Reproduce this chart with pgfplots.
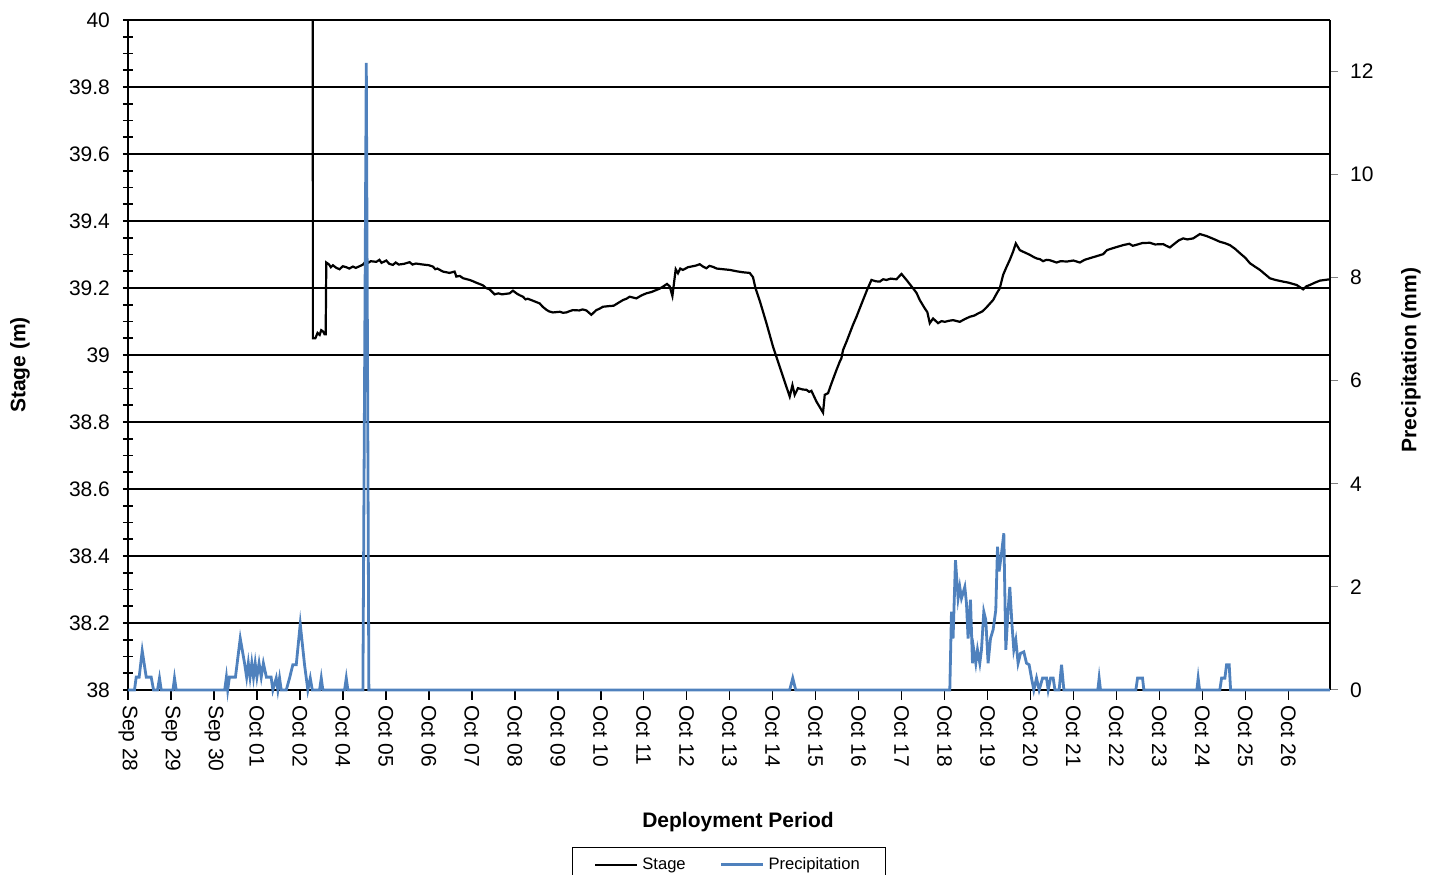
\documentclass[border=0pt]{standalone}
\usepackage{pgfplots}
\pgfplotsset{compat=1.18}
\usepackage{fontspec}
\setmainfont{Liberation Sans}
\definecolor{precip}{RGB}{79,129,189}
\begin{document}
\begin{tikzpicture}
\begin{axis}[
  name=main,
  scale only axis,
  width=601pt, height=335pt,
  xmin=0, xmax=27.97,
  ymin=38, ymax=40,
  axis y line*=left, axis x line*=bottom,
  x axis line style={black, line width=1pt},
  y axis line style={black, line width=1.3pt},
  xtick={0,...,27},
  xticklabels={Sep 28,Sep 29,Sep 30,Oct 01,Oct 02,Oct 04,Oct 05,Oct 06,Oct 07,Oct 08,Oct 09,Oct 10,Oct 11,Oct 12,Oct 13,Oct 14,Oct 15,Oct 16,Oct 17,Oct 18,Oct 19,Oct 20,Oct 21,Oct 22,Oct 23,Oct 24,Oct 25,Oct 26},
  ytick={38,38.2,38.4,38.6,38.8,39,39.2,39.4,39.6,39.8,40},
  yticklabels={38,38.2,38.4,38.6,38.8,39,39.2,39.4,39.6,39.8,40},
  minor y tick num=3,
  ymajorgrids,
  major grid style={black, line width=0.65pt},
  xtick align=outside,
  ytick align=center,
  major tick length=5pt, minor tick length=5pt,
  every tick/.style={black, line width=0.8pt},
  ticklabel style={font=\fontsize{10.5}{12}\selectfont, text=black},
  xticklabel style={rotate=-90, anchor=west, xshift=-1pt},
  yticklabel style={xshift=-3pt},
  xlabel={\textbf{Deployment Period}},
  xlabel style={at={(axis description cs:0.5,0)}, anchor=center, yshift=-66pt, xshift=4.5pt, font=\fontsize{10.5}{12}\selectfont},
  ylabel={\textbf{Stage (m)}},
  ylabel style={at={(axis description cs:0,0.485)}, anchor=center, yshift=54pt, font=\fontsize{10.5}{12}\selectfont},
]
\addplot[black, line width=1.1pt] coordinates {
(4.300,40.6) (4.302,39.05) (4.360,39.05) (4.411,39.066) (4.460,39.06) (4.497,39.074) (4.540,39.07) (4.574,39.062) (4.600,39.062)
(4.614,39.276) (4.680,39.270) (4.720,39.262) (4.767,39.268) (4.850,39.260) (4.923,39.256) (5.000,39.265) (5.079,39.262) (5.150,39.258)
(5.233,39.264) (5.300,39.260) (5.389,39.265) (5.470,39.270) (5.545,39.282) (5.600,39.276) (5.650,39.280) (5.778,39.278) (5.850,39.284) (5.900,39.275)
(6.010,39.282) (6.080,39.272) (6.164,39.269) (6.230,39.276) (6.300,39.270) (6.420,39.272) (6.553,39.277) (6.620,39.270) (6.700,39.273) (6.862,39.270)
(7.000,39.268) (7.095,39.264) (7.150,39.256) (7.200,39.258) (7.328,39.249) (7.484,39.245) (7.600,39.249) (7.640,39.234) (7.720,39.236) (7.800,39.229)
(7.949,39.224) (8.030,39.220) (8.100,39.216) (8.180,39.212) (8.259,39.208) (8.330,39.200) (8.415,39.196) (8.531,39.181) (8.620,39.184) (8.700,39.181) (8.880,39.184) (8.957,39.192)
(9.050,39.183) (9.120,39.178) (9.190,39.174) (9.250,39.166) (9.300,39.168) (9.423,39.162) (9.500,39.158) (9.579,39.154) (9.650,39.144) (9.735,39.135) (9.800,39.130) (9.888,39.127) (10.050,39.129)
(10.120,39.126) (10.200,39.127) (10.280,39.131) (10.354,39.134) (10.500,39.133) (10.580,39.136) (10.666,39.133) (10.782,39.120) (10.898,39.134) (10.970,39.138) (11.052,39.144) (11.200,39.146)
(11.300,39.147) (11.364,39.152) (11.440,39.158) (11.518,39.164) (11.600,39.168) (11.674,39.174) (11.830,39.169) (11.950,39.178) (12.062,39.184) (12.180,39.188) (12.295,39.194) (12.370,39.198) (12.449,39.204) (12.542,39.212)
(12.605,39.205) (12.668,39.176) (12.745,39.256) (12.798,39.244) (12.850,39.258) (12.914,39.254) (13.030,39.262) (13.147,39.265) (13.220,39.267) (13.303,39.271)
(13.380,39.264) (13.459,39.259) (13.530,39.266) (13.613,39.263) (13.700,39.258) (13.846,39.256) (14.000,39.254) (14.158,39.250) (14.300,39.247) (14.467,39.245) (14.544,39.232)
(14.600,39.200) (14.700,39.162) (14.856,39.095) (15.009,39.025) (15.165,38.965) (15.321,38.905) (15.398,38.876) (15.461,38.910)
(15.514,38.881) (15.591,38.901) (15.700,38.897) (15.787,38.896) (15.850,38.890) (15.903,38.893) (16.020,38.861) (16.173,38.828) (16.213,38.881)
(16.290,38.886) (16.369,38.915) (16.485,38.955) (16.562,38.980) (16.600,38.990) (16.639,39.015) (16.720,39.040) (16.795,39.065) (16.870,39.090) (16.951,39.114) (17.030,39.140) (17.104,39.164)
(17.200,39.195) (17.300,39.224) (17.400,39.220) (17.493,39.219) (17.570,39.226) (17.649,39.224) (17.750,39.228) (17.882,39.226) (17.998,39.242) (18.115,39.224) (18.268,39.199) (18.350,39.185) (18.424,39.164)
(18.541,39.139) (18.600,39.128) (18.657,39.095) (18.734,39.109) (18.850,39.095) (18.930,39.101) (19.006,39.099) (19.100,39.102) (19.200,39.104) (19.355,39.099) (19.470,39.107) (19.588,39.114)
(19.700,39.118) (19.781,39.124) (19.880,39.130) (19.976,39.142) (20.130,39.164) (20.220,39.185) (20.286,39.199) (20.363,39.239) (20.440,39.262) (20.519,39.284) (20.600,39.310) (20.659,39.333) (20.752,39.313)
(20.850,39.307) (20.985,39.299) (21.080,39.292) (21.150,39.288) (21.220,39.286) (21.294,39.280) (21.370,39.284) (21.450,39.283) (21.606,39.276) (21.700,39.280) (21.850,39.279) (22.000,39.282) (22.149,39.276) (22.260,39.284) (22.381,39.289)
(22.540,39.295) (22.691,39.301) (22.780,39.313) (22.847,39.316) (23.000,39.322) (23.157,39.328) (23.300,39.332) (23.380,39.326) (23.468,39.329) (23.600,39.334) (23.778,39.335) (23.900,39.330) (24.088,39.331) (24.160,39.326) (24.244,39.321)
(24.350,39.332) (24.450,39.342) (24.553,39.348) (24.650,39.345) (24.786,39.348) (24.942,39.361) (25.098,39.355) (25.250,39.347) (25.407,39.338) (25.520,39.334) (25.640,39.328) (25.760,39.317) (25.873,39.304) (26.000,39.290) (26.106,39.274)
(26.220,39.264) (26.339,39.254) (26.450,39.242) (26.571,39.229) (26.700,39.224) (26.881,39.219) (27.000,39.216) (27.193,39.209) (27.346,39.196) (27.420,39.205) (27.502,39.209) (27.620,39.216) (27.735,39.222) (27.850,39.224) (27.968,39.226)
};
\coordinate (SW) at (rel axis cs:0,0);
\coordinate (NE) at (rel axis cs:1,1);
\end{axis}
\begin{axis}[
  scale only axis,
  width=601pt, height=335pt,
  xmin=0, xmax=27.97,
  ymin=0, ymax=13,
  axis y line*=right, axis x line=none,
  y axis line style={black, line width=1pt},
  ytick={0,2,4,6,8,10,12},
  yticklabels={0,2,4,6,8,10,12},
  tick align=outside,
  major tick length=4pt,
  every tick/.style={gray, line width=0.5pt},
  ticklabel style={font=\fontsize{10.5}{12}\selectfont, text=black},
  yticklabel style={xshift=2.5pt},
  ylabel={\textbf{Precipitation (mm)}},
  ylabel style={at={(axis description cs:1,0.4925)}, anchor=center, yshift=-40.5pt, font=\fontsize{10.5}{12}\selectfont},
  clip=false,
  legend style={at={(0.5,-0.234)}, anchor=north, draw=black, line width=0.6pt,
    font=\fontsize{8.3}{10}\selectfont, inner xsep=11pt, inner ysep=3pt},
  legend columns=2,
  legend image code/.code={\draw[#1] (0pt,0pt) -- (21pt,0pt);},
  /tikz/every even column/.append style={column sep=15pt},
]
\addlegendimage{black, line width=1.1pt}
\addlegendentry{Stage}
\addplot[precip, line width=1.4pt] coordinates {
(0,0) (0.151,0) (0.191,0.25) (0.260,0.25) (0.331,0.76) (0.424,0.25) (0.540,0.25) (0.594,0) (0.687,0) (0.733,0.23) (0.773,0)
(1.047,0) (1.082,0.23) (1.122,0) (2.25,0) (2.29,0.25) (2.32,0) (2.36,0.25) (2.50,0.25) (2.612,1.0) (2.712,0.52) (2.76,0.25)
(2.80,0.52) (2.84,0.25) (2.88,0.52) (2.92,0.25) (2.96,0.52) (3.00,0.25) (3.05,0.52) (3.10,0.25) (3.15,0.52) (3.22,0.25)
(3.33,0.25) (3.371,0) (3.449,0.23) (3.487,0) (3.527,0.23) (3.566,0) (3.683,0) (3.759,0.23) (3.836,0.49) (3.915,0.49)
(4.008,1.28) (4.108,0.49) (4.185,0) (4.241,0.23) (4.288,0) (4.458,0) (4.497,0.23) (4.534,0) (5.040,0) (5.079,0.23) (5.116,0)
(5.466,0) (5.545,12.17) (5.605,0) (15.398,0) (15.468,0.23) (15.538,0) (19.123,0) (19.162,1.52) (19.199,1.0) (19.255,2.52)
(19.316,1.78) (19.355,2.0) (19.395,1.78) (19.472,2.0) (19.511,1.68) (19.548,1.0) (19.604,1.75) (19.651,0.52) (19.681,0.78)
(19.728,0.52) (19.767,0.78) (19.821,0.52) (19.860,0.78) (19.914,1.52) (19.960,1.36) (20.014,0.52) (20.070,1.0) (20.131,1.17)
(20.193,1.55) (20.233,2.78) (20.270,2.30) (20.326,2.65) (20.380,3.04) (20.426,0.78) (20.480,1.55) (20.519,2.0) (20.573,1.23)
(20.612,0.78) (20.659,0.97) (20.712,0.52) (20.768,0.71) (20.845,0.74) (20.908,0.52) (20.969,0.49) (21.024,0.23) (21.078,0)
(21.141,0.23) (21.202,0) (21.281,0.23) (21.374,0.23) (21.412,0) (21.468,0.23) (21.529,0.23) (21.569,0) (21.667,0) (21.723,0.49)
(21.777,0) (22.568,0) (22.598,0.23) (22.630,0) (23.452,0) (23.492,0.23) (23.608,0.23) (23.638,0) (24.872,0) (24.902,0.23)
(24.935,0) (25.407,0) (25.447,0.23) (25.524,0.23) (25.563,0.49) (25.624,0.49) (25.657,0) (27.968,0)
};
\addlegendentry{Precipitation}
\end{axis}
\pgfresetboundingbox
\path ([shift={(-64pt,-92.5pt)}]SW) rectangle ([shift={(53pt,10pt)}]NE);
\end{tikzpicture}
\end{document}
